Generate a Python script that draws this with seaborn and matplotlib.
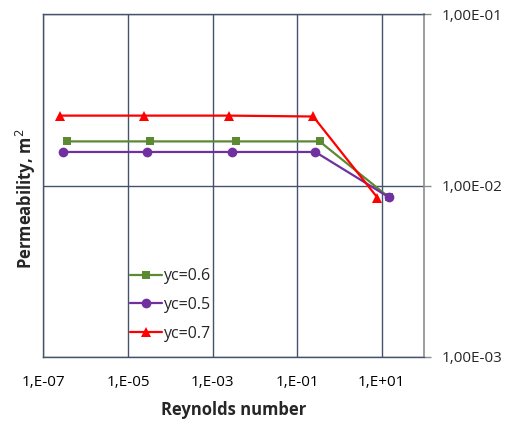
import numpy as np
import pandas as pd
import seaborn as sns
import matplotlib.pyplot as plt
from matplotlib.ticker import FixedLocator, FixedFormatter, NullLocator

# values
re_06 = [3.6e-7, 3.4e-5, 3.6e-3, 0.34, 14.9]
k_06 = [0.0181, 0.0181, 0.0181, 0.0181, 0.00853]
re_05 = [2.9e-7, 2.9e-5, 2.9e-3, 0.27, 14.9]
k_05 = [0.0157, 0.0157, 0.0157, 0.0157, 0.00853]
re_07 = [2.5e-7, 2.4e-5, 2.5e-3, 0.24, 7.9]
k_07 = [0.0256, 0.0256, 0.0256, 0.0253, 0.0085]

x_ticks = [1e-7, 1e-5, 1e-3, 1e-1, 1e1]
x_labels = ['1,E-07', '1,E-05', '1,E-03', '1,E-01', '1,E+01']
y_ticks = [1e-3, 1e-2, 1e-1]
y_labels = ['1,00E-03', '1,00E-02', '1,00E-01']

sns.set_style('white')
plt.rcParams['font.family'] = ['Open Sans', 'DejaVu Sans']

fig = plt.figure(figsize=(5.09, 4.21), dpi=100)
ax = fig.add_axes([0.0851, 0.1527, 0.833 - 0.0851, 0.966 - 0.1527])

grid_c = '#46526c'
sns.lineplot(x=re_06, y=k_06, ax=ax, color='#5b8a33', marker='s', markersize=5.5,
             markeredgewidth=0, linewidth=1.6, label='yc=0.6', sort=False)
sns.lineplot(x=re_05, y=k_05, ax=ax, color='#7030a0', marker='o', markersize=7,
             markeredgewidth=0, linewidth=1.6, label='yc=0.5', sort=False)
sns.lineplot(x=re_07, y=k_07, ax=ax, color='#ff0000', marker='^', markersize=6.5,
             markeredgewidth=0, linewidth=1.6, label='yc=0.7', sort=False)

ax.set_xscale('log')
ax.set_yscale('log')
ax.set_xlim(1e-7, 1e2)
ax.set_ylim(1e-3, 1e-1)

ax.xaxis.set_major_locator(FixedLocator(x_ticks))
ax.xaxis.set_major_formatter(FixedFormatter(x_labels))
ax.xaxis.set_minor_locator(NullLocator())
ax.yaxis.set_major_locator(FixedLocator(y_ticks))
ax.yaxis.set_major_formatter(FixedFormatter(y_labels))
ax.yaxis.set_minor_locator(NullLocator())
ax.yaxis.tick_right()

ax.grid(True, color=grid_c, linewidth=1.0)
ax.set_axisbelow(True)
ax.tick_params(axis='x', length=0, pad=13, labelsize=11, colors='black')
ax.tick_params(axis='y', which='major', direction='out', length=5, width=1,
               color='#8c8c8c', pad=8, labelsize=11, right=True, left=False)

for side in ['left', 'bottom', 'top']:
    ax.spines[side].set_color(grid_c)
    ax.spines[side].set_linewidth(1.0)
ax.spines['right'].set_color('#8c8c8c')
ax.spines['right'].set_linewidth(1.2)

ax.set_xlabel('Reynolds number', fontsize=12, fontweight='bold')
ax.xaxis.set_label_coords(0.5, -0.128)
ax.set_ylabel('Permeability, m$^2$', fontsize=12, fontweight='bold')
ax.yaxis.set_label_position('left')
ax.yaxis.set_label_coords(-0.014, 0.46)

ax.legend(loc='lower left', bbox_to_anchor=(0.21, 0.025), frameon=False, fontsize=11.5,
          handlelength=2.0, handletextpad=0.1, labelspacing=0.8, borderaxespad=0)

plt.savefig('out.png', dpi=100)
